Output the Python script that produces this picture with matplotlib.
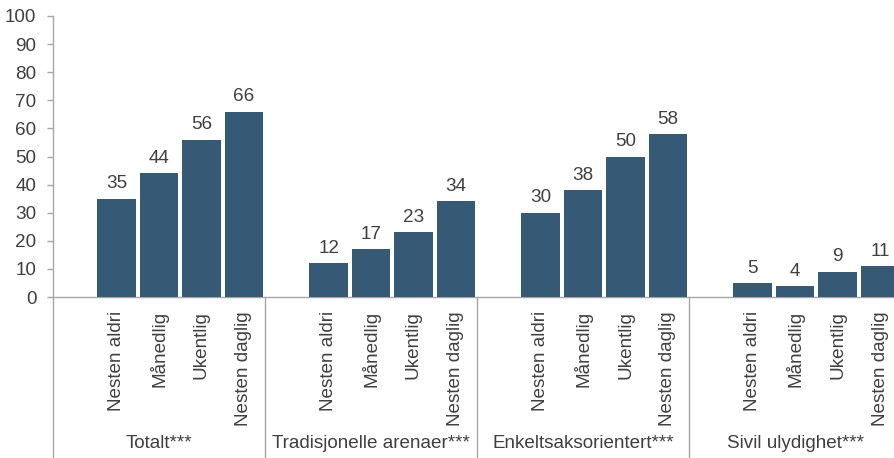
import matplotlib
matplotlib.use("Agg")
import matplotlib.pyplot as plt
import matplotlib.transforms as mtransforms

plt.rcParams['font.family'] = ['Liberation Sans', 'DejaVu Sans']

groups = ["Totalt***", "Tradisjonelle arenaer***", "Enkeltsaksorientert***", "Sivil ulydighet***"]
frequencies = ["Nesten aldri", "Månedlig", "Ukentlig", "Nesten daglig"]
totalt = [35, 44, 56, 66]
tradisjonelle = [12, 17, 23, 34]
enkeltsak = [30, 38, 50, 58]
sivil = [5, 4, 9, 11]
values = [totalt, tradisjonelle, enkeltsak, sivil]
yticks = list(range(0, 101, 10))

bar_color = '#365a76'
text_color = '#404040'
line_color = '#a6a6a6'
fs = 13.6

W, H = 894, 458
fig = plt.figure(figsize=(W / 100, H / 100), dpi=100)
ax = fig.add_axes([53 / W, 161 / H, 841 / W, 281 / H])

xs, hs, labels = [], [], []
for g, vals in enumerate(values):
    for i, v in enumerate(vals):
        xs.append(g * 5 + 1 + i)
        hs.append(v)
        labels.append(frequencies[i])

bars = ax.bar(xs, hs, width=0.91, color=bar_color, zorder=3)
for x, h in zip(xs, hs):
    ax.annotate(str(h), (x, h), xytext=(0, 4.5), textcoords='offset points',
                ha='center', va='bottom', fontsize=fs, color=text_color)

ax.set_xlim(-0.5, 19.33)
ax.set_ylim(0, 100)
ax.set_yticks(yticks)
ax.set_yticklabels([str(t) for t in yticks])
ax.tick_params(axis='y', length=4, width=1, color=line_color, pad=8,
               labelsize=fs, labelcolor=text_color)
ax.set_xticks(xs)
ax.set_xticklabels(labels, rotation=90)
ax.tick_params(axis='x', length=0, pad=10, labelsize=fs, labelcolor=text_color)

for s in ['top', 'right', 'left']:
    ax.spines[s].set_visible(False)
ax.spines['bottom'].set_color(line_color)
ax.spines['bottom'].set_linewidth(1)

trans = mtransforms.blended_transform_factory(ax.transData, ax.transAxes)
bottom_y = -161 / 281
for xsep in [-0.5, 4.5, 9.5, 14.5]:
    top = 1.0 if xsep == -0.5 else 0.0
    ax.plot([xsep, xsep], [top, bottom_y], transform=trans, color=line_color,
            lw=1, clip_on=False, zorder=2)

for g, name in enumerate(groups):
    ax.text(g * 5 + 2, (297 - 444) / 281, name, transform=trans, ha='center',
            va='center', fontsize=fs, color=text_color)

fig.savefig('out.png', dpi=100)
